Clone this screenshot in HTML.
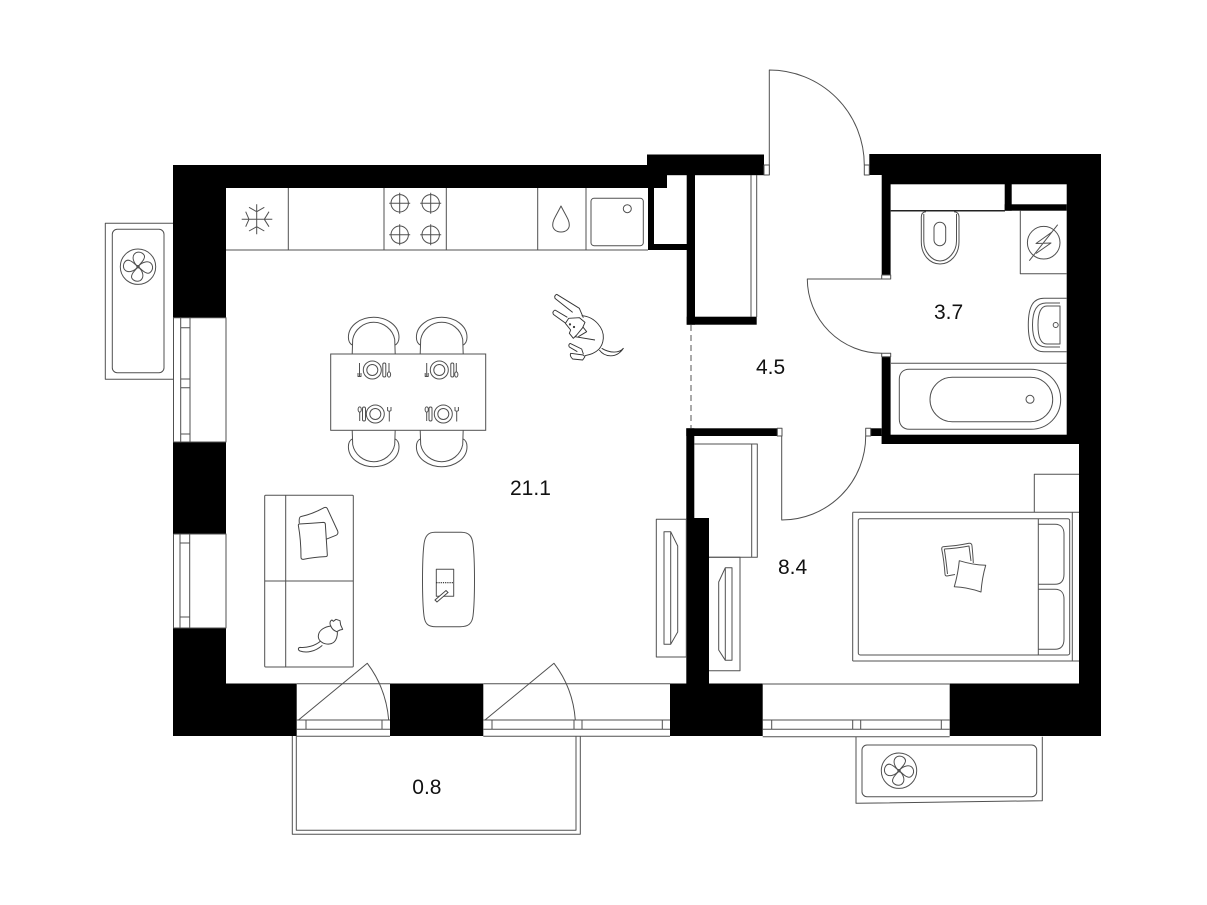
<!DOCTYPE html>
<html><head><meta charset="utf-8"><style>
html,body{margin:0;padding:0;background:#fff;width:1207px;height:905px;overflow:hidden}
svg{display:block}
text{font-family:"Liberation Sans",sans-serif;font-size:21px;fill:#111}
.l{fill:none;stroke:#505050;stroke-width:1;stroke-linejoin:round}
.w{fill:#fff;stroke:#505050;stroke-width:1}
</style></head><body>
<svg width="1207" height="905" viewBox="0 0 1207 905" xmlns="http://www.w3.org/2000/svg">
<defs>
<g id="fan" class="l"><circle r="17.7"/><g id="pt">
<path d="M0,0C-5,-4 -7,-11 -2,-14C3,-16 8,-12 6,-8C5,-5 2,-3 0,0Z"/></g>
<use href="#pt" transform="rotate(90)"/><use href="#pt" transform="rotate(180)"/><use href="#pt" transform="rotate(270)"/><circle r="1.2"/></g>
<g id="chair" class="l"><path d="M-21,28Q-25.3,26 -25.3,20C-25.3,8 -13,0 0,0C13,0 25.3,8 25.3,20Q25.3,26 21,28"/><path d="M-21.5,36.7L-21,22C-19,12 -10,5 0,5C10,5 19,12 21,22L21.5,36.7"/></g>
<g id="plate" class="l"><circle r="9"/><circle r="5.5"/></g>
<g id="fork" class="l"><path d="M0,-7V7M-1.5,3V6.5H1.5V3"/></g>
<g id="forkb" class="l"><path d="M0,-3V7.5M-1.7,-7V-3.5Q0,-2 1.7,-3.5V-7"/></g>
<g id="knife" class="l"><rect x="-1.5" y="-7" width="3" height="14" rx="1.5"/></g>
<g id="spoon" class="l"><ellipse cx="0" cy="4.5" rx="1.6" ry="2.6"/><path d="M0,-7V2"/></g>
<g id="spoonb" class="l"><ellipse cx="0" cy="-4.5" rx="1.6" ry="2.6"/><path d="M0,-2V7"/></g>
<g id="burner" class="l"><circle r="8.7"/><path d="M-10.5,0H10.5M0,-10.5V10.5"/></g>
</defs>

<!-- walls -->
<g fill="#000">
<rect x="173" y="165" width="494" height="23"/>
<rect x="173" y="165" width="53" height="152.7"/>
<rect x="173" y="442" width="53" height="92"/>
<rect x="173" y="628" width="53" height="108"/>
<rect x="173" y="683.5" width="123.7" height="52.5"/>
<rect x="390" y="683.5" width="93.3" height="52.5"/>
<rect x="647" y="154.5" width="117" height="20.7"/>
<rect x="647" y="165" width="20" height="23"/>
<rect x="648" y="188" width="6" height="62"/>
<rect x="648" y="244" width="40" height="6"/>
<rect x="686.7" y="175" width="8.3" height="149.7"/>
<rect x="686.7" y="316.7" width="70" height="8"/>
<rect x="686.3" y="428.3" width="91" height="7.7"/>
<rect x="686.3" y="428.3" width="8" height="90"/>
<rect x="686.3" y="518" width="22.7" height="166"/>
<rect x="670" y="683.5" width="92.7" height="52.5"/>
<rect x="869.3" y="154" width="231.7" height="21"/>
<rect x="881.7" y="175" width="8.9" height="100"/>
<rect x="881.7" y="356.7" width="8.9" height="87.3"/>
<rect x="870.7" y="428.3" width="11" height="7.7"/>
<rect x="881.7" y="434.7" width="197.3" height="9.3"/>
<rect x="890" y="175" width="211" height="9.3"/>
<rect x="1004.7" y="184" width="7" height="26.7"/>
<rect x="1004.7" y="204.3" width="62" height="6.4"/>
<rect x="1066.7" y="175" width="34.3" height="269"/>
<rect x="1079" y="444" width="22" height="292"/>
<rect x="949.7" y="683.5" width="151.3" height="52.5"/>
</g>
<path d="M890.7,210.7H1005" stroke="#222" stroke-width="1.5" fill="none"/>

<!-- windows left -->
<g class="l">
<path d="M173.5,317.7H226V442H173.5V317.7M180.7,317.7V442M190,317.7V442M180.7,327.7H190M180.7,379H190M180.7,387.7H190M180.7,434H190"/>
<path d="M173.5,534H226V628H173.5V534M180,534V628M189.7,534V628M180,543H189.7M180,617H189.7"/>
</g>
<!-- bottom windows -->
<g class="l">
<path d="M296.7,683.7H390M296.7,720H390M296.7,729.3H390M296.7,736.3H390M306,720V729.3M382,720V729.3"/>
<path d="M298.5,720L367.3,663.3Q386,688 388.7,720"/>
<path d="M483.3,683.7H670M483.3,720H670M483.3,729.3H670M483.3,736.3H670M492,720V729.3M574,720V729.3M582,720V729.3M662.3,720V729.3"/>
<path d="M485,720L554,663.3Q573,688 575.3,720"/>
<path d="M762.7,684H949.7M762.7,720H949.7M762.7,729.3H949.7M762.7,736.7H949.7M771.7,720V729.3M852.7,720V729.3M860.7,720V729.3M941.3,720V729.3"/>
<!-- balcony -->
<path d="M292.3,736V834.3H580.3V736M296.3,736V830.3H576V736"/>
<!-- planters -->
<path d="M173,223.3H105.3V379.3H173"/>
<rect x="112.3" y="229.3" width="51.7" height="143.4" rx="5"/>
<path d="M856,736.7V803.3L1042.3,800.7V736.7"/>
<rect x="862" y="745" width="174.7" height="51.7" rx="5"/>
</g>
<use href="#fan" x="138" y="266.7"/>
<use href="#fan" x="899" y="770.7"/>

<!-- kitchen -->
<g class="l">
<path d="M226,250H648M288.3,188V250M384,188V250M446.3,188V250M537.7,188V250M586,188V250"/>
<path d="M561,206C556,216 552.7,220 552.7,225C552.7,229 556,232 561,232C566,232 569.3,229 569.3,225C569.3,220 566,216 561,206Z"/>
<rect x="591" y="198.3" width="52.3" height="47.4" rx="3"/><circle cx="627.3" cy="208.7" r="4"/>
<path d="M256.7,204.3V234.3M241.7,219.3H272.3M249,207.3L256.7,211.7L264.3,207.3M249,231L256.7,226.7L264.3,231M245.7,211.7L249,219.3L245.7,226.7M269,211.7L264.3,219.3L269,226.7"/>
</g>
<use href="#burner" x="399.7" y="203.3"/><use href="#burner" x="430.7" y="203.3"/>
<use href="#burner" x="399.7" y="234.7"/><use href="#burner" x="430.7" y="234.7"/>

<!-- closets -->
<g class="l">
<path d="M751,175V317M756.7,175V317"/>
<path d="M694.3,444H757.3V557.3H709M751.7,444V557.3"/>
<rect x="656.3" y="519.3" width="30" height="137.7"/>
<path d="M664,531.7H670.7L677.7,546V632L670.7,644.3H664ZM670.7,531.7V644.3"/>
<path d="M709,557.3H740V670.7H709"/>
<path d="M732,567.7H725.3L718.7,582V650L725.3,660.3H732ZM725.3,567.7V660.3"/>
</g>
<path d="M691,325V428" fill="none" stroke="#555" stroke-width="1" stroke-dasharray="6,4"/>

<!-- table and chairs -->
<use href="#chair" x="373.7" y="317.3"/><use href="#chair" x="441.7" y="317.3"/>
<g transform="translate(373.7,466.7) scale(1,-1)"><use href="#chair"/></g>
<g transform="translate(441.7,466.7) scale(1,-1)"><use href="#chair"/></g>
<rect class="w" x="330.7" y="354" width="155" height="76.3"/>
<use href="#plate" x="372.3" y="370"/><use href="#fork" x="359.5" y="370"/><use href="#knife" x="384.3" y="370"/><use href="#spoon" x="389" y="370"/>
<use href="#plate" x="439.3" y="370"/><use href="#fork" x="426.7" y="370"/><use href="#knife" x="452.3" y="370"/><use href="#spoon" x="456.3" y="370"/>
<use href="#plate" x="375.3" y="414"/><use href="#spoonb" x="359.7" y="414"/><use href="#knife" x="364" y="414"/><use href="#forkb" x="389.3" y="414"/>
<use href="#plate" x="443.3" y="414"/><use href="#spoonb" x="426.7" y="414"/><use href="#knife" x="430.5" y="414"/><use href="#forkb" x="456.7" y="414"/>

<!-- dog -->
<g transform="translate(540,285) scale(.33333)" fill="none" stroke="#333" stroke-width="2.8" stroke-linejoin="round">
<path d="M50,28L118,70L130,98M50,28Q42,32 45,40L98,82"/>
<path d="M45,75L82,97M45,75Q36,80 40,88L76,114"/>
<path d="M76,115L86,100L118,98L135,112L128,128L110,150L100,160L88,145L92,135Z"/>
<path d="M125,92C165,95 192,130 190,160C188,185 175,205 135,212"/>
<path d="M105,155L165,165M128,125L140,140L115,155"/>
<path d="M90,175L125,192L130,207M90,175Q84,180 88,186L112,200M92,205L130,210L135,215L128,225L98,222Q88,212 92,205Z"/>
<path d="M178,195C195,218 230,220 250,190C238,205 210,205 185,190"/>
<circle cx="90" cy="118" r="2"/><circle cx="102" cy="126" r="2"/>
</g>

<!-- sofa -->
<g class="l">
<rect x="264.7" y="495.3" width="88.6" height="171.7" rx="1"/>
<path d="M285.7,495.3V667M264.7,581H353.3"/>
<!-- coffee table -->
<path d="M435,532.3H461C469,532.3 472,536 473,544C475,560 475,600 473,616C472,624 468,626.7 460,626.7H436C428,626.7 425,624 424,616C422,600 422,560 424,544C425,536 428,532.3 435,532.3Z"/>
<rect x="436.3" y="569.3" width="17.4" height="27"/>
</g>
<g transform="translate(290,500) scale(.33333)" fill="none" stroke="#444" stroke-width="3" stroke-linejoin="round">
<path d="M28,70Q26,52 32,50Q68,42 102,23Q110,20 113,28L143,93Q146,102 138,106L108,118"/>
<path d="M28,72Q65,70 100,67Q106,67 106,73L112,165Q112,170 106,170Q70,172 40,178Q33,178 33,172Q33,120 25,76Q25,72 28,72Z"/>
<path d="M124,378C104,380 86,390 85,408C84,422 100,434 118,432C135,430 143,415 142,395"/>
<path d="M122,378C118,370 120,362 126,360L130,364L138,358L150,362L152,375L158,388L150,390L140,395C132,392 125,385 122,378Z"/>
<path d="M92,423C75,438 50,444 30,442C24,443 23,450 30,453C50,460 75,455 97,436"/>
</g>
<path d="M436.3,582.7H453.7" stroke="#222" stroke-width="1.2" stroke-dasharray="1.2,1" fill="none"/>
<path d="M435,600L446,590.5L448,592.5L437,602Z" fill="#fff" stroke="#444"/>

<!-- bathroom -->
<g class="l">
<path d="M926,211.7Q921.3,212 921.3,217V242C921.3,255 930,264 940,264C950,264 959,255 959,242V217Q959,212 954,211.700"/>
<path d="M923.8,214V241C923.8,252 932,261 940,261C948,261 956.5,252 956.5,241V214"/>
<rect x="934" y="222.3" width="11.7" height="23.4" rx="5.8"/>
<path d="M1020.3,210.7V273.7H1066.7"/>
<circle cx="1043.7" cy="242.7" r="16.3"/>
<path d="M1029.3,260.7L1057.7,224.7M1052,232L1036,243.5L1051,243L1036,253.5"/>
<path d="M1066.7,298.3H1044C1034,298.3 1028.3,305 1028.3,325C1028.3,345 1034,351.7 1044,351.7H1066.7"/>
<path d="M1060,303H1046C1037,303 1032.5,310 1032.5,325C1032.5,340 1037,347 1046,347H1060"/>
<path d="M1060,306H1047C1041,306 1038,312 1038,325C1038,338 1041,344 1047,344H1060V306Z"/>
<circle cx="1055.7" cy="325" r="2.5"/>
<path d="M891,363.3H1066.7"/>
<path d="M909.3,369.3H1030.7C1048,369.3 1060.7,383 1060.7,399.3C1060.7,416 1048,429.3 1030.7,429.3H909.3C903,429.3 899.3,425 899.3,419V379.3C899.3,373 903,369.3 909.3,369.3Z"/>
<rect x="930" y="377.3" width="122.7" height="44.4" rx="22.2"/>
<circle cx="1030" cy="399.3" r="4"/>
</g>

<!-- doors -->
<g class="l">
<path d="M769.3,175V70A95,95 0 0 1 864.3,165"/>
<rect class="w" x="764" y="165" width="5.3" height="10"/>
<rect class="w" x="864.3" y="165" width="5" height="10"/>
<path d="M881.7,279H807.3A74.7,74.7 0 0 0 881.7,353.3"/>
<rect class="w" x="881.7" y="275" width="9" height="4"/>
<rect class="w" x="881.7" y="353.3" width="9" height="3.4"/>
<path d="M781.7,436V520A84,84 0 0 0 865.7,436"/>
<rect class="w" x="777.3" y="428.3" width="4.7" height="7.7"/>
<rect class="w" x="865.7" y="428.3" width="5" height="7.7"/>
</g>

<!-- bed -->
<g class="l">
<path d="M1034.3,512.3V474.3H1079"/>
<path d="M852.7,512.3H1079M852.7,661H1079M852.7,512.3V661M1072.3,512.3V661"/>
<rect x="858.3" y="518.7" width="211.4" height="136.3" rx="2"/>
<path d="M1038.3,518.7V655"/>
<path d="M1038.3,524.3H1055C1061,524.3 1064,528 1064,534V574C1064,581 1061,584.3 1055,584.3H1038.3"/>
<path d="M1038.3,589.3H1055C1061,589.3 1064,593 1064,599V639C1064,646 1061,649.3 1055,649.3H1038.3"/>
<path d="M943,546.7Q956,546 969,543.3Q972,543 972,546Q973,556 973.3,563M947,576Q945,576 945,574Q944,560 941.7,549Q941.7,547 943,546.7M947,576L955,574.5"/>
<path d="M944.3,549Q956,548.5 969,546L971,561M947.5,574Q946,560 944.3,549"/>
<path d="M959.3,560.7Q973,565 985.7,565.3Q982,578 981,592Q967,587 954.3,586.7Q958,574 959.3,560.7Z" fill="#fff"/>
</g>

<text x="510" y="495">21.1</text>
<text x="756" y="374">4.5</text>
<text x="934" y="319">3.7</text>
<text x="778" y="574">8.4</text>
<text x="412.3" y="794">0.8</text>
</svg>
</body></html>
